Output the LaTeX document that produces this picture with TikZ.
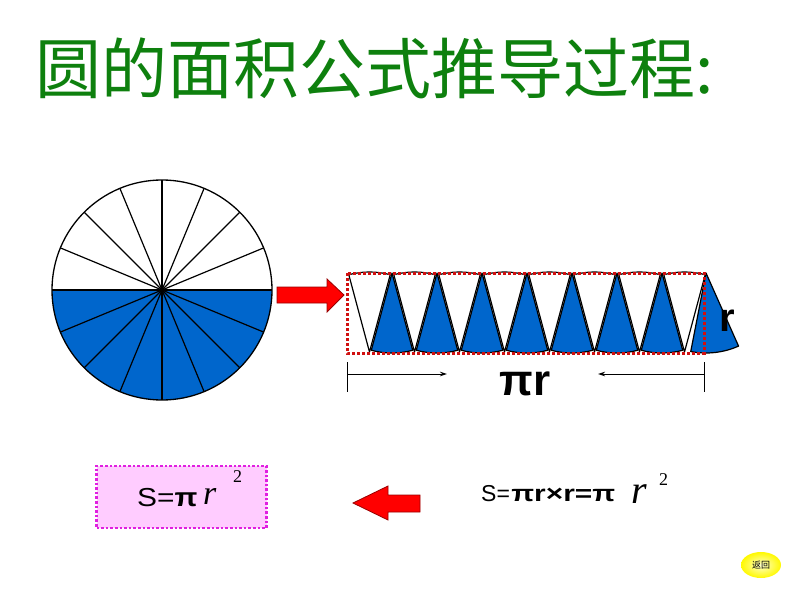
\documentclass[tikz,border=0pt]{standalone}
\usepackage{fontspec}
\setmainfont{Liberation Sans}
\newfontfamily\cjk{Noto Sans CJK SC}
\newfontfamily\tms{Liberation Serif}
\usetikzlibrary{arrows.meta,shapes.geometric}
\definecolor{titlegreen}{HTML}{0E800E}
\definecolor{pieblue}{HTML}{0066CC}
\definecolor{dotred}{HTML}{D01010}
\definecolor{boxpink}{HTML}{FFCCFF}
\definecolor{boxline}{HTML}{E020E0}
\definecolor{arrowred}{HTML}{FF0000}

\begin{document}
\begin{tikzpicture}[x=1pt,y=-1pt,
  wedge/.style={draw=black,line width=1.2pt,line join=round},
  blockarrow/.style={fill=arrowred,draw=arrowred!60!black,line width=0.8pt},
  measure/.style={line width=1pt,-{Stealth[length=7pt,width=4.5pt]}}]
  \useasboundingbox (0,0) rectangle (794,596);
  % title
  \node[anchor=base west,inner sep=0,text=titlegreen,font=\cjk\fontsize{66}{70}\selectfont] (title) at (35,94) {圆的面积公式推导过程:};
  % circle cut into 16 sectors
  \coordinate (c) at (162,290);
  \fill[pieblue] (c) -- ++(0:110) arc[start angle=0,end angle=180,radius=110] -- cycle;
  \foreach \a in {0,22.5,...,337.5}{\draw[line width=1.2pt] (c) -- ++(\a:110);}
  \draw[line width=1.3pt] (c) circle[radius=110];
  % arrow to the strip
  \draw[blockarrow] (277,287) -- (327,287) -- (327,279) -- (344,295) -- (327,312) -- (327,303) -- (277,303) -- cycle;
  % sectors laid side by side
  \foreach \k in {0,...,7}{
    \pgfmathsetmacro{\wx}{369.5+45*\k}
    \pgfmathsetmacro{\bx}{392+45*\k}
    \draw[wedge,fill=white] (\wx,352) -- ++(255:80) arc[start angle=255,end angle=285,radius=80] -- cycle;
    \ifnum\k<7
      \draw[wedge,fill=pieblue] (\bx,273) -- ++(75:80) arc[start angle=75,end angle=105,radius=80] -- cycle;
    \fi
  }
  \draw[wedge,fill=pieblue] (706,273) -- ++(66:80) arc[start angle=66,end angle=101,radius=80] -- cycle;
  \draw[dotred,line width=3pt,dash pattern=on 3pt off 2pt] (347,273) rectangle (704,353);
  \node[font=\bfseries\fontsize{40}{42}\selectfont,inner sep=0] (rlab) at (727,321) {r};
  % length of the strip
  \coordinate (ml) at (347,374);
  \coordinate (mr) at (704,374);
  \coordinate (al) at (447,374);
  \coordinate (ar) at (598,374);
  \draw[line width=1pt] (347,362) -- (347,392);
  \draw[line width=1pt] (704,362) -- (704,392);
  \draw[measure] (ml) -- (al);
  \draw[measure] (mr) -- (ar);
  \node[font=\bfseries\fontsize{44}{46}\selectfont,inner sep=0] (pir) at (525,384) {πr};
  % result box
  \node[draw=boxline,fill=boxpink,line width=2.6pt,dash pattern=on 2.6pt off 2pt,minimum width=170,minimum height=62,inner sep=0] (res) at (181.5,497) {};
  \node[anchor=base west,inner sep=0,xscale=1.15,font=\fontsize{26}{28}\selectfont] (s1) at (137,506) {S=\textbf{π}};
  \node[anchor=base west,inner sep=0,font=\tms\itshape\fontsize{34}{36}\selectfont] (r1) at (203,504) {r};
  \node[anchor=base west,inner sep=0,font=\tms\fontsize{18}{20}\selectfont] (e1) at (233,482) {2};
  \draw[blockarrow] (353,503) -- (388,486) -- (388,495) -- (420,495) -- (420,512) -- (388,512) -- (388,520) -- cycle;
  % formula on the right
  \node[anchor=base west,inner sep=0,font=\fontsize{23}{25}\selectfont] (s2) at (481,501) {S=};
  \node[anchor=base west,inner sep=0,xscale=1.3,font=\bfseries\fontsize{23}{25}\selectfont] (s3) at (511,501) {πr×r=π};
  \node[anchor=base west,inner sep=0,font=\tms\itshape\fontsize{40}{42}\selectfont] (r2) at (631,503) {r};
  \node[anchor=base west,inner sep=0,font=\tms\fontsize{18}{20}\selectfont] (e2) at (659,485) {2};
  % back button
  \shade[inner color=yellow!20,outer color=yellow!95!orange] (761,565) ellipse[x radius=20,y radius=13];
  \node[font=\cjk\fontsize{9}{10}\selectfont,inner sep=0] (back) at (761,565) {返回};
\end{tikzpicture}
\end{document}
